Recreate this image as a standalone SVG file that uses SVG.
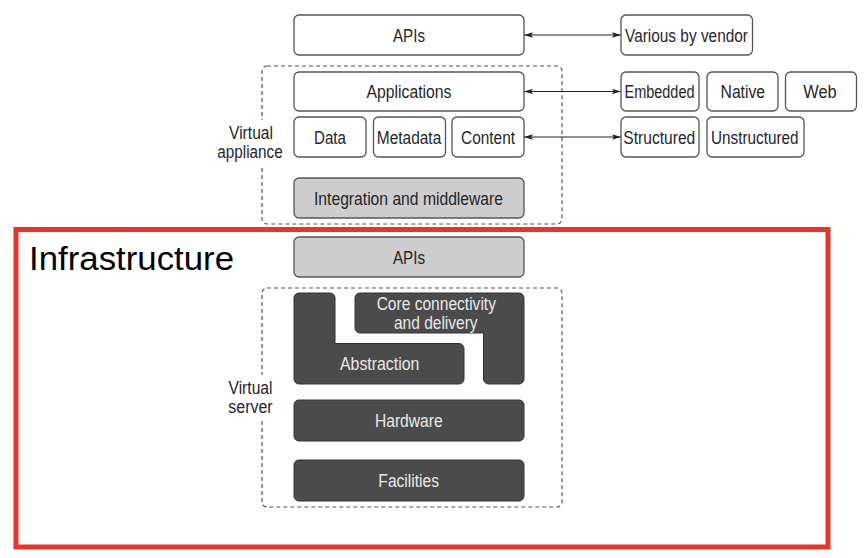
<svg xmlns="http://www.w3.org/2000/svg" width="864" height="558" viewBox="0 0 864 558">
<defs>
<marker id="ah" viewBox="0 0 10 6" refX="10" refY="3" markerWidth="9" markerHeight="5.5" markerUnits="userSpaceOnUse" orient="auto-start-reverse">
<path d="M0,0 L10,3 L0,6 L2,3 Z" fill="#222"/>
</marker>
<style>
.w{fill:#fff;stroke:#555;stroke-width:1.3}
.g{fill:#cdcdcd;stroke:#555;stroke-width:1.3}
.d{fill:#4b4b4b;stroke:#333;stroke-width:1}
.dash{fill:none;stroke:#555;stroke-width:1.2;stroke-dasharray:4 3}
text{font-family:"Liberation Sans",Arial,sans-serif;font-size:17.5px;text-anchor:middle;fill:#262626}
.lt{fill:#e8e8e8}
.conn{stroke:#222;stroke-width:1.2;fill:none;marker-start:url(#ah);marker-end:url(#ah)}
</style>
</defs>
<rect width="864" height="558" fill="#fff"/>

<g id="virtual-appliance">
<rect class="dash" x="262" y="66" width="300" height="158" rx="5"/>
<rect x="224" y="120" width="63" height="45.5" fill="#fff"/>
<text><tspan x="251" y="139.3" textLength="44" lengthAdjust="spacingAndGlyphs">Virtual</tspan><tspan x="250" y="158.3" textLength="65.4" lengthAdjust="spacingAndGlyphs">appliance</tspan></text>
</g>
<g id="virtual-server">
<rect class="dash" x="262" y="288" width="300" height="219" rx="5"/>
<rect x="226" y="375" width="50" height="45" fill="#fff"/>
<text><tspan x="250.5" y="394" textLength="44" lengthAdjust="spacingAndGlyphs">Virtual</tspan><tspan x="250.5" y="412.7" textLength="44.4" lengthAdjust="spacingAndGlyphs">server</tspan></text>
</g>

<g id="connectors">
<line class="conn" x1="524" y1="35" x2="621" y2="35"/>
<line class="conn" x1="524" y1="91.5" x2="621" y2="91.5"/>
<line class="conn" x1="524" y1="137" x2="621" y2="137"/>
</g>

<g id="apis-top"><rect class="w" x="294" y="15" width="230" height="40" rx="5"/><text x="409" y="41.5" textLength="32" lengthAdjust="spacingAndGlyphs">APIs</text></g>
<g id="applications"><rect class="w" x="294" y="72" width="230" height="39" rx="5"/><text x="409" y="97.5" textLength="85" lengthAdjust="spacingAndGlyphs">Applications</text></g>
<g id="data"><rect class="w" x="294" y="117" width="72" height="40" rx="5"/><text x="330" y="143.5" textLength="32" lengthAdjust="spacingAndGlyphs">Data</text></g>
<g id="metadata"><rect class="w" x="373.5" y="117" width="72" height="40" rx="5"/><text x="409" y="143.5" textLength="64.5" lengthAdjust="spacingAndGlyphs">Metadata</text></g>
<g id="content"><rect class="w" x="452" y="117" width="72" height="40" rx="5"/><text x="488" y="143.5" textLength="54" lengthAdjust="spacingAndGlyphs">Content</text></g>
<g id="integration"><rect class="g" x="294" y="178" width="230" height="40" rx="5"/><text x="408.5" y="204.5" textLength="189" lengthAdjust="spacingAndGlyphs">Integration and middleware</text></g>

<g id="various"><rect class="w" x="621" y="15" width="131.5" height="40" rx="5"/><text x="686.5" y="41.5" textLength="123" lengthAdjust="spacingAndGlyphs">Various by vendor</text></g>
<g id="embedded"><rect class="w" x="621" y="72" width="78" height="39" rx="5"/><text x="659.5" y="97.5" textLength="70" lengthAdjust="spacingAndGlyphs">Embedded</text></g>
<g id="native"><rect class="w" x="707" y="72" width="71" height="39" rx="5"/><text x="742.8" y="97.5" textLength="44.5" lengthAdjust="spacingAndGlyphs">Native</text></g>
<g id="web"><rect class="w" x="785.5" y="72" width="71" height="39" rx="5"/><text x="820" y="97.5" textLength="33.5" lengthAdjust="spacingAndGlyphs">Web</text></g>
<g id="structured"><rect class="w" x="621" y="117" width="78" height="40" rx="5"/><text x="659.3" y="143.5" textLength="72" lengthAdjust="spacingAndGlyphs">Structured</text></g>
<g id="unstructured"><rect class="w" x="707" y="117" width="97" height="40" rx="5"/><text x="754.8" y="143.5" textLength="87.5" lengthAdjust="spacingAndGlyphs">Unstructured</text></g>

<g id="apis-infra"><rect class="g" x="294" y="237" width="230" height="40" rx="5"/><text x="409" y="263.5" textLength="32" lengthAdjust="spacingAndGlyphs">APIs</text></g>
<g id="abstraction">
<path class="d" d="M299,293 L330,293 A5,5 0 0 1 335,298 L335,343.5 L459,343.5 A5,5 0 0 1 464,348.5 L464,379 A5,5 0 0 1 459,384 L299,384 A5,5 0 0 1 294,379 L294,298 A5,5 0 0 1 299,293 Z"/>
<text x="379.7" y="369.5" class="lt" textLength="79.3" lengthAdjust="spacingAndGlyphs">Abstraction</text>
</g>
<g id="core">
<path class="d" d="M360,293 L519,293 A5,5 0 0 1 524,298 L524,379 A5,5 0 0 1 519,384 L488.5,384 A5,5 0 0 1 483.5,379 L483.5,333 L360,333 A5,5 0 0 1 355,328 L355,298 A5,5 0 0 1 360,293 Z"/>
<text class="lt"><tspan x="436.3" y="310" textLength="119.3" lengthAdjust="spacingAndGlyphs">Core connectivity</tspan><tspan x="435.8" y="329" textLength="83.7" lengthAdjust="spacingAndGlyphs">and delivery</tspan></text>
</g>
<g id="hardware"><rect class="d" x="294" y="400" width="230" height="41" rx="5"/><text x="408.8" y="426.5" class="lt" textLength="67.7" lengthAdjust="spacingAndGlyphs">Hardware</text></g>
<g id="facilities"><rect class="d" x="294" y="460" width="230" height="41" rx="5"/><text x="408.7" y="486.5" class="lt" textLength="60.7" lengthAdjust="spacingAndGlyphs">Facilities</text></g>

<g id="infrastructure">
<rect x="16" y="229.5" width="812" height="317.5" fill="none" stroke="#e8352b" stroke-width="5"/>
<text x="29" y="269.5" textLength="205" lengthAdjust="spacingAndGlyphs" style="font-size:34px;text-anchor:start;fill:#000">Infrastructure</text>
</g>
</svg>
